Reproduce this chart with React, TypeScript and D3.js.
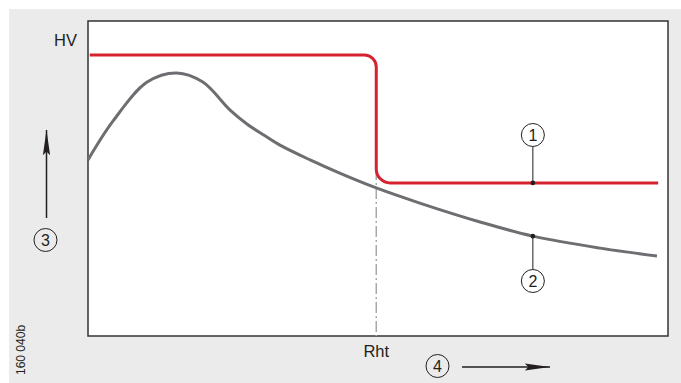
import { useMemo } from "react"
import * as d3 from "d3"

const W = 681
const H = 383

// grey curve, values (x and y in % of the plot area)
const greyX = [0, 4.3, 10.2, 15.3, 19.8, 24.5, 27.4, 30.3, 33.1, 38.3, 43.4, 49.7, 57.2, 67.6, 76.7, 88.3, 98.1]
const greyY = [55.9, 68.2, 80.6, 83.5, 80.6, 71.7, 67.3, 63.8, 60.6, 55.9, 51.7, 47.0, 42.2, 36.2, 31.7, 27.9, 25.4]

// red step line
const redX = [0.3, 49.7, 49.7, 98.3]
const redY = [89.2, 89.2, 48.6, 48.6]

// labels
const yLabel = "HV"
const xMarkLabel = "Rht"
const calloutX = 76.7
const figId = "160 040b"

const RED = "#d6222e"
const GREY = "#6d6e71"
const INK = "#231f20"

const App = () => {
  const margin = { left: 88, right: 13, top: 21, bottom: 47 }

  const x = useMemo(() => d3.scaleLinear().domain([0, 100]).range([margin.left, W - margin.right]), [])
  const y = useMemo(() => d3.scaleLinear().domain([0, 100]).range([H - margin.bottom, margin.top]), [])

  const greyPath = useMemo(() => {
    const pts: [number, number][] = greyX.map((v, i) => [v, greyY[i]])
    return d3.line<[number, number]>()
      .x(d => x(d[0]))
      .y(d => y(d[1]))
      .curve(d3.curveCatmullRom.alpha(0.5))(pts) || ""
  }, [])

  const redPath = useMemo(() => {
    const p = d3.path()
    p.moveTo(x(redX[0]), y(redY[0]))
    p.arcTo(x(redX[1]), y(redY[1]), x(redX[2]), y(redY[2]), 12)
    p.arcTo(x(redX[2]), y(redY[2]), x(redX[3]), y(redY[3]), 14)
    p.lineTo(x(redX[3]), y(redY[3]))
    return p.toString()
  }, [])

  const stepX = x(redX[1])
  const redLow = y(redY[2])
  const cx = x(calloutX)
  const greyAt = y(greyY[greyX.indexOf(calloutX)])
  const plotBottom = H - margin.bottom
  const plotRight = W - margin.right

  return (
    <svg width={W} height={H} style={{ position: "absolute", left: 0, top: 0 }}
      fontFamily="'Liberation Sans', Arial, sans-serif">
      <defs>
        <marker id="arr" viewBox="0 0 28 10" refX="28" refY="5" markerWidth="28" markerHeight="9"
          markerUnits="userSpaceOnUse" orient="auto">
          <path d="M0,1 L28,5 L0,9 L4,5 Z" fill={INK} />
        </marker>
      </defs>
      <rect x={9} y={9} width={W - 9} height={H - 9} fill="#ebebeb" />
      <rect x={margin.left} y={margin.top} width={plotRight - margin.left} height={plotBottom - margin.top}
        fill="#fff" stroke="#333" strokeWidth={1.5} />

      {/* dash-dot line at Rht */}
      <line x1={stepX} x2={stepX} y1={redLow - 14} y2={plotBottom}
        stroke="#a8a8aa" strokeWidth={1.5} strokeDasharray="11 3 2 3" />

      <path d={greyPath} fill="none" stroke={GREY} strokeWidth={3} />
      <path d={redPath} fill="none" stroke={RED} strokeWidth={3} />

      {/* callout 1 */}
      <line x1={cx} x2={cx} y1={redLow} y2={147} stroke={INK} strokeWidth={1} />
      <circle cx={cx} cy={redLow} r={2.3} fill={INK} />
      <circle cx={cx} cy={135} r={11.5} fill="#fff" stroke={INK} strokeWidth={1} />
      <text x={cx} y={141} textAnchor="middle" fontSize={16} fill={INK}>1</text>

      {/* callout 2 */}
      <line x1={cx} x2={cx} y1={greyAt} y2={269} stroke={INK} strokeWidth={1} />
      <circle cx={cx} cy={greyAt} r={2.3} fill={INK} />
      <circle cx={cx} cy={281} r={11.5} fill="#fff" stroke={INK} strokeWidth={1} />
      <text x={cx} y={287} textAnchor="middle" fontSize={16} fill={INK}>2</text>

      {/* axis hints */}
      <text x={77} y={46} textAnchor="end" fontSize={16.5} fill={INK}>{yLabel}</text>
      <text x={stepX} y={357} textAnchor="middle" fontSize={16.5} fill={INK}>{xMarkLabel}</text>

      <line x1={46.5} x2={46.5} y1={218} y2={130} stroke={INK} strokeWidth={1.5} markerEnd="url(#arr)" />
      <circle cx={45.5} cy={240} r={11.5} fill="none" stroke={INK} strokeWidth={1} />
      <text x={45.5} y={246} textAnchor="middle" fontSize={16} fill={INK}>3</text>

      <line x1={462} x2={550} y1={367} y2={367} stroke={INK} strokeWidth={1.5} markerEnd="url(#arr)" />
      <circle cx={437.5} cy={366} r={11.5} fill="none" stroke={INK} strokeWidth={1} />
      <text x={437.5} y={372} textAnchor="middle" fontSize={16} fill={INK}>4</text>

      <text transform="translate(25,375) rotate(-90)" fontSize={12} fill={INK}>{figId}</text>
    </svg>
  )
}

export default App
